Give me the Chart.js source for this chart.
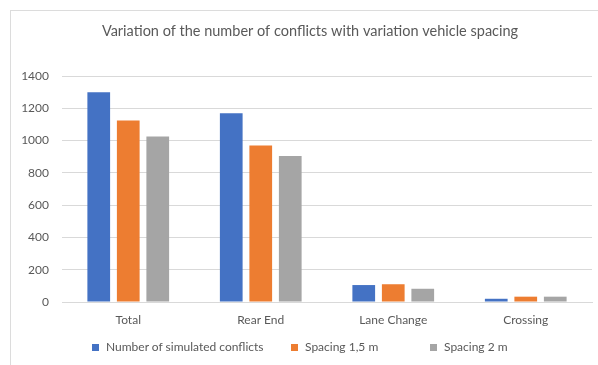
<!DOCTYPE html>
<html>
<head>
<meta charset="utf-8">
<script src="https://cdn.jsdelivr.net/npm/chart.js@4"></script>
<style>
  html, body { margin: 0; padding: 0; width: 598px; height: 365px; overflow: hidden; background: #fff; }
  #frame { position: absolute; left: 10px; top: 10px; width: 640px; height: 400px; border: 1px solid #dcdcdc; box-sizing: border-box; }
  #wrap { position: absolute; left: 0; top: 0; width: 620px; height: 365px; }
  #legend { position: absolute; left: 0; top: 339px; width: 598px; height: 16px; font: 12px Lato, sans-serif; color: #595959; }
  .item { position: absolute; top: 0; height: 16px; line-height: 16px; white-space: nowrap; }
  .swatch { position: absolute; left: -14px; top: 5px; width: 7px; height: 7px; }
</style>
</head>
<body>
<div id="frame"></div>
<div id="wrap"><canvas id="c" width="620" height="365"></canvas></div>
<div id="legend"></div>
<script>
// Conflict counts per conflict type, for each vehicle-spacing scenario
const categories = ['Total', 'Rear End', 'Lane Change', 'Crossing'];
const seriesNames = ['Number of simulated conflicts', 'Spacing 1,5 m', 'Spacing 2 m'];
const simulatedConflicts = [1300, 1170, 105, 20];
const spacing15 = [1125, 970, 110, 33];
const spacing2 = [1025, 905, 82, 33];
const yTicks = [0, 200, 400, 600, 800, 1000, 1200, 1400];

const seriesColors = ['#4472C4', '#ED7D31', '#A5A5A5'];
const legendTextLeft = [106, 305, 444];
const textColor = '#595959';
const gridColor = '#d9d9d9';
const fontFamily = 'Lato, "Open Sans", sans-serif';

// Builds the legend as HTML from the chart's own legend items
const htmlLegend = {
  id: 'htmlLegend',
  afterUpdate(chart) {
    const box = document.getElementById('legend');
    box.innerHTML = '';
    const items = chart.options.plugins.legend.labels.generateLabels(chart);
    items.forEach((it, i) => {
      const el = document.createElement('div');
      el.className = 'item';
      el.style.left = legendTextLeft[i] + 'px';
      const sw = document.createElement('span');
      sw.className = 'swatch';
      sw.style.background = it.fillStyle;
      el.appendChild(sw);
      el.appendChild(document.createTextNode(it.text));
      box.appendChild(el);
    });
  }
};

function draw() {
  new Chart(document.getElementById('c'), {
    type: 'bar',
    data: {
      labels: categories,
      datasets: [simulatedConflicts, spacing15, spacing2].map((d, i) => ({
        label: seriesNames[i],
        data: d,
        backgroundColor: seriesColors[i],
        borderWidth: 0,
        yAxisID: 'y',
        categoryPercentage: 0.668,
        barPercentage: 0.77
      }))
    },
    options: {
      responsive: false,
      devicePixelRatio: 1,
      animation: false,
      layout: { padding: { left: 11, right: 11, top: 0, bottom: 0 } },
      plugins: {
        legend: { display: false },
        tooltip: { enabled: false },
        title: {
          display: true,
          text: 'Variation of the number of conflicts with variation vehicle spacing',
          color: textColor,
          font: { family: fontFamily, size: 14.5, weight: 'normal' },
          padding: { top: 22.3, bottom: 36.3 }
        }
      },
      scales: {
        x: {
          grid: { display: false, drawTicks: false },
          border: { display: true, color: gridColor, width: 1 },
          ticks: { color: textColor, font: { family: fontFamily, size: 12 }, padding: 11 },
          afterFit(s) { s.height = 63; }
        },
        y: {
          min: 0,
          max: 1400,
          position: 'left',
          afterBuildTicks(s) { s.ticks = yTicks.map(v => ({ value: v })); },
          grid: { color: gridColor, lineWidth: 1, drawTicks: false },
          border: { display: false },
          ticks: {
            color: textColor,
            font: { family: fontFamily, size: 12 },
            padding: 13,
            callback: v => String(v)
          },
          afterFit(s) { s.width = 51; }
        },
        spare: {
          type: 'linear',
          position: 'right',
          display: true,
          grid: { display: false },
          border: { display: false },
          ticks: { display: false },
          afterFit(s) { s.width = 17; }
        }
      }
    },
    plugins: [htmlLegend]
  });
}

document.fonts.load('12px Lato').then(draw, draw);
</script>
</body>
</html>
